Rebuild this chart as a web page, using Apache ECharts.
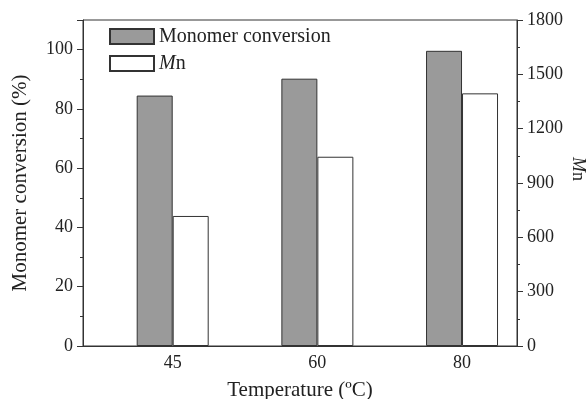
<!DOCTYPE html>
<html>
<head>
<meta charset="utf-8">
<script src="https://cdn.jsdelivr.net/npm/echarts@6/dist/echarts.min.js"></script>
<style>html,body{margin:0;padding:0;background:#fff}#c{width:587px;height:399px}</style>
</head>
<body>
<div id="c"></div>
<script>
const categories = ['45', '60', '80'];
const conversion = [84.5, 90.2, 99.6];
const mn = [718, 1045, 1395];
const leftTicks = [0, 20, 40, 60, 80, 100];
const rightTicks = [0, 300, 600, 900, 1200, 1500, 1800];

const FONT = '"Liberation Serif", "Times New Roman", serif';
const AX = '#333';
const TXT = '#222';
const pos = categories.map((c, i) => i + 1);
const rich = {i: {fontStyle: 'italic', fontFamily: FONT, fontSize: 20, color: TXT}, n: {fontFamily: FONT, fontSize: 20, color: TXT}};

const chart = echarts.init(document.getElementById('c'), null, {renderer: 'canvas'});
chart.setOption({
  animation: false,
  backgroundColor: '#fff',
  textStyle: {fontFamily: FONT, color: TXT},
  grid: {left: 83, right: 70, top: 20, bottom: 53, outerBoundsMode: 'none', containLabel: false, show: true, borderColor: AX, borderWidth: 1, backgroundColor: 'transparent'},
  legend: {
    orient: 'vertical', left: 109, top: 26.5, padding: 0, itemWidth: 44, itemHeight: 15, itemGap: 7,
    icon: 'rect',
    textStyle: {fontFamily: FONT, fontSize: 20, color: TXT, rich: rich},
    formatter: function (name) { return name === 'Mn' ? '{i|M}{n|n}' : name; },
    data: ['Monomer conversion', 'Mn']
  },
  xAxis: {
    type: 'value', min: 0.38, max: 3.38,
    name: 'Temperature (ºC)', nameLocation: 'middle', nameGap: 34, nameMoveOverlap: false,
    nameTextStyle: {fontFamily: FONT, fontSize: 21, color: TXT},
    axisLine: {show: true, lineStyle: {color: AX}},
    axisTick: {show: false},
    splitLine: {show: false},
    axisLabel: {
      customValues: pos, fontFamily: FONT, fontSize: 18, color: TXT, margin: 8,
      formatter: function (v) { return categories[Math.round(v) - 1] || ''; }
    }
  },
  yAxis: [
    {
      type: 'value', min: 0, max: 110, interval: 20, position: 'left',
      name: 'Monomer conversion (%)', nameLocation: 'middle', nameGap: 52, nameMoveOverlap: false,
      nameTextStyle: {fontFamily: FONT, fontSize: 21, color: TXT},
      axisLine: {show: true, lineStyle: {color: AX}},
      axisTick: {show: true, length: 6, lineStyle: {color: AX}},
      minorTick: {show: true, splitNumber: 2, length: 3, lineStyle: {color: AX}},
      splitLine: {show: false},
      axisLabel: {fontFamily: FONT, fontSize: 18, color: TXT, margin: 10, showMaxLabel: false,
        formatter: function (v) { return leftTicks.indexOf(v) >= 0 ? String(v) : ''; }}
    },
    {
      type: 'value', min: 0, max: 1800, interval: 300, position: 'right',
      name: '{i|M}{n|n}', nameLocation: 'middle', nameGap: 52, nameRotate: -90, nameMoveOverlap: false,
      nameTextStyle: {fontFamily: FONT, fontSize: 18, color: TXT, padding: [0, 28, 0, 0],
        rich: {i: {fontStyle: 'italic', fontFamily: FONT, fontSize: 18, color: TXT}, n: {fontFamily: FONT, fontSize: 18, color: TXT}}},
      axisLine: {show: true, lineStyle: {color: AX}},
      axisTick: {show: true, length: 6, lineStyle: {color: AX}},
      minorTick: {show: true, splitNumber: 2, length: 3, lineStyle: {color: AX}},
      splitLine: {show: false},
      axisLabel: {fontFamily: FONT, fontSize: 18, color: TXT, margin: 10,
        formatter: function (v) { return rightTicks.indexOf(v) >= 0 ? String(v) : ''; }}
    }
  ],
  series: [
    {
      name: 'Monomer conversion', type: 'bar', yAxisIndex: 0, barWidth: 36, barGap: '0%',
      itemStyle: {color: '#9a9a9a', borderColor: '#333', borderWidth: 1},
      data: pos.map((p, i) => [p, conversion[i]])
    },
    {
      name: 'Mn', type: 'bar', yAxisIndex: 1, barWidth: 36, barGap: '0%',
      itemStyle: {color: '#fff', borderColor: '#333', borderWidth: 1},
      data: pos.map((p, i) => [p, mn[i]])
    }
  ]
});
</script>
</body>
</html>
